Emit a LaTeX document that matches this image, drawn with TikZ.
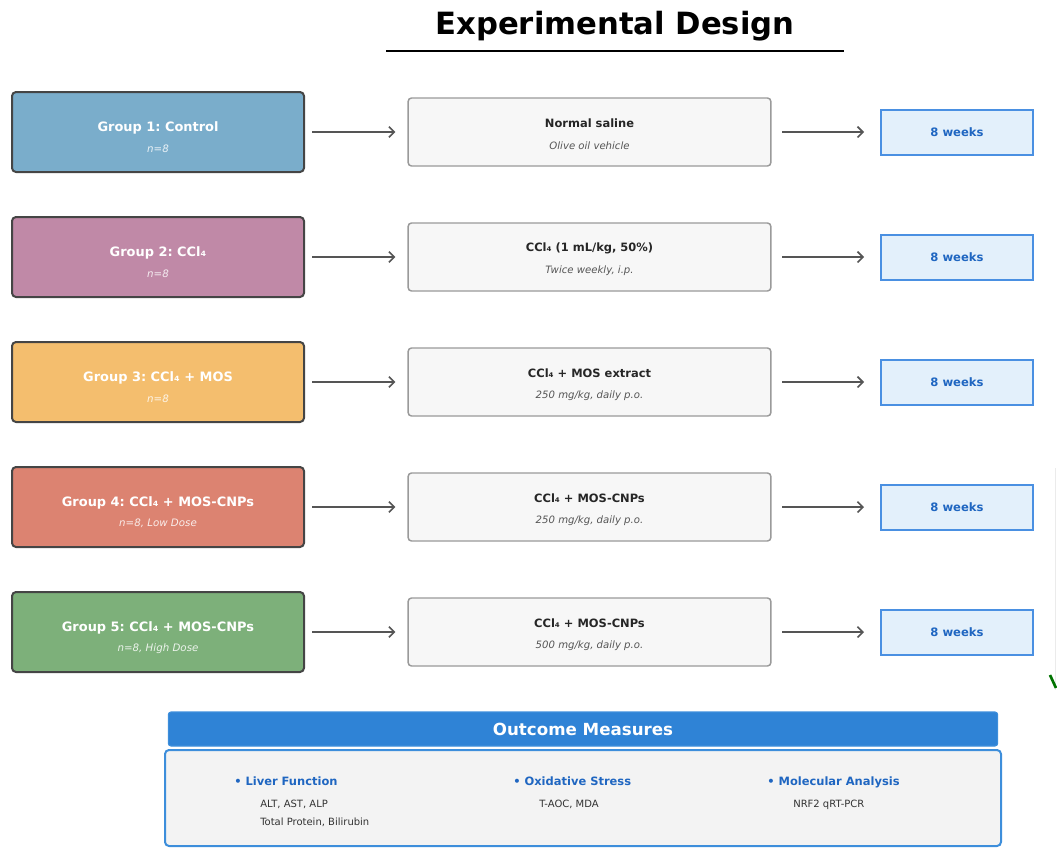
\documentclass[tikz,border=0pt]{standalone}
\usepackage{fontspec}
\setmainfont{DejaVu Sans}
\usepackage{xcolor}
\usepackage{tikz}
\usetikzlibrary{positioning,arrows.meta}
\frenchspacing

\definecolor{grpone}{HTML}{7AADCB}
\definecolor{grptwo}{HTML}{C089A7}
\definecolor{grpthree}{HTML}{F4BE6E}
\definecolor{grpfour}{HTML}{DC8371}
\definecolor{grpfive}{HTML}{7DB07A}
\definecolor{edgedark}{HTML}{454545}
\definecolor{trtfill}{HTML}{F7F7F7}
\definecolor{trtedge}{HTML}{9A9A9A}
\definecolor{notegray}{HTML}{555555}
\definecolor{weekfill}{HTML}{E3F0FB}
\definecolor{weekedge}{HTML}{4A90E2}
\definecolor{weektext}{HTML}{1F66C1}
\definecolor{outhead}{HTML}{2F83D6}
\definecolor{outedge}{HTML}{3D8EDB}
\definecolor{outbody}{HTML}{F3F3F3}
\definecolor{itemgray}{HTML}{333333}

\begin{document}
\begin{tikzpicture}[x=0.75pt, y=-0.75pt,
    grpbox/.style={draw=edgedark, line width=1.5pt, rounded corners=3pt,
        minimum width=219pt, minimum height=60pt},
    grplabel/.style={inner sep=0pt, text=white, font=\fontsize{9.7}{12}\selectfont\bfseries},
    grpnote/.style={inner sep=0pt, text=white, text opacity=0.85,
        font=\fontsize{7.7}{9}\selectfont\itshape},
    trtbox/.style={draw=trtedge, fill=trtfill, line width=1.1pt, rounded corners=2.5pt,
        minimum width=272pt, minimum height=51pt},
    trtlabel/.style={inner sep=0pt, text=black!85, font=\fontsize{8.6}{10}\selectfont\bfseries},
    trtnote/.style={inner sep=0pt, text=notegray, font=\fontsize{7.6}{9}\selectfont\itshape},
    weekbox/.style={draw=weekedge, fill=weekfill, line width=1.5pt,
        minimum width=114pt, minimum height=33.75pt, text=weektext,
        font=\fontsize{8.7}{10}\selectfont\bfseries},
    flow/.style={draw=notegray, line width=1.2pt, -{Straight Barb[length=4pt,width=8pt]}},
    outtitle/.style={inner sep=0pt, anchor=base west, text=weektext,
        font=\fontsize{8.6}{10}\selectfont\bfseries},
    outitem/.style={inner sep=0pt, anchor=base west, text=itemgray,
        font=\fontsize{7.5}{9}\selectfont},
]
    \useasboundingbox (0,0) rectangle (1057,847);
    \clip (0,0) rectangle (1057,847);

    % Title
    \node[font=\fontsize{23}{28}\selectfont\bfseries] (title) at (615,26.5) {Experimental Design};
    \draw[line width=1.5pt] (386,51) -- (844,51);

    % Groups, treatments and durations
    \foreach \i/\y/\col/\grp/\cnt/\trt/\dose in {
        1/132/grpone/{Group 1: Control}/{n=8}/{Normal saline}/{Olive oil vehicle},
        2/257/grptwo/{Group 2: CCl₄}/{n=8}/{CCl₄ (1 mL/kg, 50\%)}/{Twice weekly, i.p.},
        3/382/grpthree/{Group 3: CCl₄ + MOS}/{n=8}/{CCl₄ + MOS extract}/{250 mg/kg, daily p.o.},
        4/507/grpfour/{Group 4: CCl₄ + MOS-CNPs}/{n=8, Low Dose}/{CCl₄ + MOS-CNPs}/{250 mg/kg, daily p.o.},
        5/632/grpfive/{Group 5: CCl₄ + MOS-CNPs}/{n=8, High Dose}/{CCl₄ + MOS-CNPs}/{500 mg/kg, daily p.o.}}
    {
        \node[grpbox, fill=\col] (g\i) at (158,\y) {};
        \node[grplabel] (gl\i) at (158,\y-4.5) {\grp};
        \node[grpnote] (gn\i) at (158,\y+16.5) {\cnt};
        \node[trtbox] (t\i) at (589.5,\y) {};
        \node[trtlabel] (tl\i) at (589.5,\y-9) {\trt};
        \node[trtnote] (tn\i) at (589.5,\y+13.5) {\dose};
        \node[weekbox] (w\i) at (957,\y) {8 weeks};
        \draw[flow, shorten <=5.5pt, shorten >=9pt] (g\i) -- (t\i);
        \draw[flow, shorten <=8pt, shorten >=12pt] (t\i) -- (w\i);
    }

    % Outcome measures
    \node[draw=outedge, fill=outhead, line width=0.8pt, rounded corners=2pt,
        minimum width=622pt, minimum height=25.5pt, text=white,
        font=\fontsize{12.5}{15}\selectfont\bfseries] (ohead) at (583,729) {Outcome Measures};
    \node[draw=outedge, fill=outbody, line width=1.5pt, rounded corners=3pt,
        minimum width=627pt, minimum height=72pt] (obody) at (583,798) {};

    \foreach \k/\x/\head in {1/234/Liver Function, 2/513/Oxidative Stress, 3/767/Molecular Analysis}
        \node[outtitle] (oh\k) at (\x,785.5) {• \head};
    \node[outitem] (oi1) at (260,807) {ALT, AST, ALP};
    \node[outitem] (oi2) at (260,825) {Total Protein, Bilirubin};
    \node[outitem] (oi3) at (539,807) {T-AOC, MDA};
    \node[outitem] (oi4) at (793,807) {NRF2 qRT-PCR};

    % Edge pieces on the right
    \draw[black!8, line width=0.6pt] (1055.5,468) -- (1055.5,690);
    \draw[green!45!black, line width=2pt] (1050,675) -- (1056,688);
\end{tikzpicture}
\end{document}
